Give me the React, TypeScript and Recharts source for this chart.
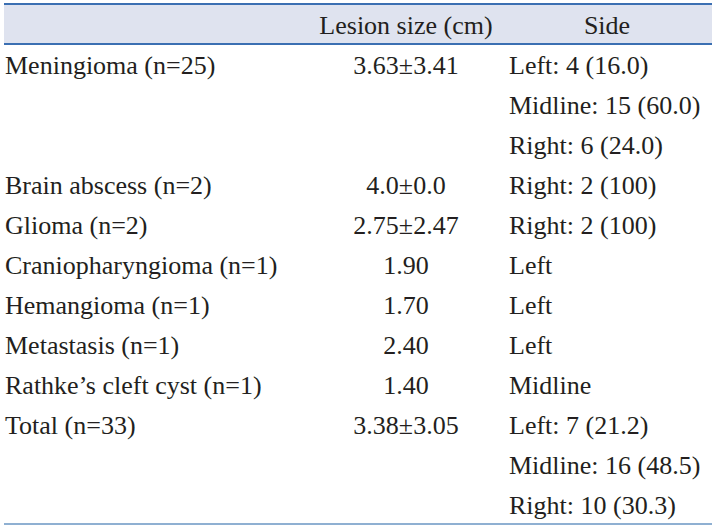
import React from "react";
import { ComposedChart, XAxis, YAxis, Bar, ReferenceLine } from "recharts";

const headers = ["", "Lesion size (cm)", "Side"];
const diagnoses = [
  "Meningioma (n=25)", "", "",
  "Brain abscess (n=2)",
  "Glioma (n=2)",
  "Craniopharyngioma (n=1)",
  "Hemangioma (n=1)",
  "Metastasis (n=1)",
  "Rathke\u2019s cleft cyst (n=1)",
  "Total (n=33)", "", "",
];
const lesionSizes = [
  "3.63\u00b13.41", "", "",
  "4.0\u00b10.0",
  "2.75\u00b12.47",
  "1.90",
  "1.70",
  "2.40",
  "1.40",
  "3.38\u00b13.05", "", "",
];
const sides = [
  "Left: 4 (16.0)", "Midline: 15 (60.0)", "Right: 6 (24.0)",
  "Right: 2 (100)",
  "Right: 2 (100)",
  "Left",
  "Left",
  "Left",
  "Midline",
  "Left: 7 (21.2)", "Midline: 16 (48.5)", "Right: 10 (30.3)",
];

// one band per printed line, header first; shade=1 fills the header band
const rows = [
  { key: "h", cells: headers, header: true, shade: 1 },
  ...diagnoses.map((d, i) => ({ key: "r" + i, cells: [d, lesionSizes[i], sides[i]], header: false, shade: 0 })),
];

const FONT = "'Liberation Serif', 'DejaVu Serif', serif";
const INK = "#231f20";

const renderRow = (props: any) => {
  const { y, payload } = props;
  const row = rows.find((r) => r.key === payload?.value);
  if (!row) return <g />;
  const base = Number(y) + 10;
  const common = { fontFamily: FONT, fontSize: 26, fill: INK };
  if (row.header) {
    return (
      <g>
        <text x={406} y={base} textAnchor="middle" {...common}>{row.cells[1]}</text>
        <text x={607} y={base} textAnchor="middle" {...common}>{row.cells[2]}</text>
      </g>
    );
  }
  return (
    <g>
      <text x={5} y={base} textAnchor="start" {...common}>{row.cells[0]}</text>
      <text x={406} y={base} textAnchor="middle" {...common}>{row.cells[1]}</text>
      <text x={509} y={base} textAnchor="start" {...common}>{row.cells[2]}</text>
    </g>
  );
};

export default function App() {
  return (
    <div style={{ position: "absolute", left: 0, top: 0, width: 717, height: 529, background: "#fff" }}>
      <ComposedChart
        width={717}
        height={529}
        data={rows}
        layout="vertical"
        barCategoryGap={0}
        margin={{ top: 4, right: 5, bottom: 5, left: 3 }}
      >
        <XAxis type="number" domain={[0, 1]} hide />
        <YAxis
          type="category"
          dataKey="key"
          width={1}
          interval={0}
          axisLine={false}
          tickLine={false}
          tick={renderRow}
        />
        <Bar dataKey="shade" fill="#dfe3ef" isAnimationActive={false} />
        <ReferenceLine y="h" position="start" stroke="#3b6fb2" strokeWidth={2} ifOverflow="visible" />
        <ReferenceLine y="h" position="end" stroke="#3b6fb2" strokeWidth={2} ifOverflow="visible" />
        <ReferenceLine y="r11" position="end" stroke="#8fb0d2" strokeWidth={2} ifOverflow="visible" />
      </ComposedChart>
    </div>
  );
}
